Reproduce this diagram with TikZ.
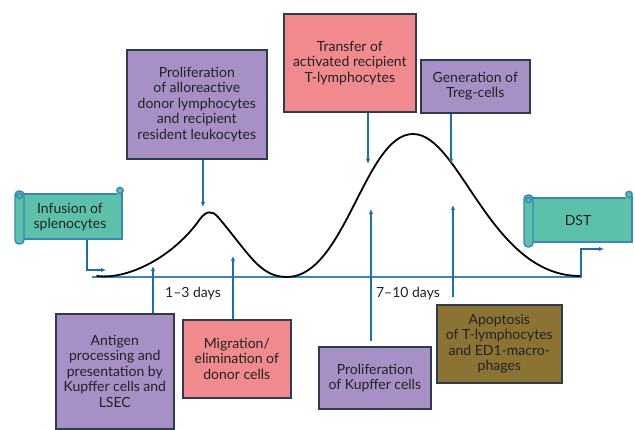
\documentclass[tikz,border=0pt]{standalone}
\usepackage{fontspec}
\setmainfont{Lato}
\usetikzlibrary{arrows.meta}
\definecolor{purp}{HTML}{A690C5}
\definecolor{pinkc}{HTML}{F08A8E}
\definecolor{olive}{HTML}{8B7334}
\definecolor{tealc}{HTML}{5CC0AA}
\definecolor{bord}{HTML}{2E3B4A}
\definecolor{arrblue}{HTML}{1F6FA0}
\definecolor{axblue}{HTML}{3A86B4}
\definecolor{txt}{HTML}{222222}
\tikzset{
  box/.style={draw=bord, line width=1.6pt, anchor=north west, inner sep=0pt, align=center,
    text=txt, font=\fontsize{14}{15.5}\selectfont},
  arr/.style={draw=arrblue, line width=1.3pt, -{Latex[length=5pt,width=4.5pt]}},
  scrollfill/.style={fill=tealc, draw=axblue, line width=1.4pt},
  lbl/.style={text=txt, font=\fontsize{14}{15.5}\selectfont, align=center}
}
\begin{document}
\begin{tikzpicture}[x=1pt,y=-1pt]
\useasboundingbox (0,0) rectangle (635,430);
\fill[white] (0,0) rectangle (635,430);

% axis and curve
\coordinate (ax0) at (92,277);
\coordinate (ax1) at (582,277);
\draw[axblue, line width=1.8pt] (ax0) -- (ax1);
\draw[black, line width=1.8pt, line cap=round]
  (97,276) .. controls (130,280) and (175,255) .. (200,219)
  .. controls (206,211) and (212,210) .. (218,217)
  .. controls (250,255) and (260,277) .. (287,277)
  .. controls (345,277) and (365,134) .. (413,134)
  .. controls (460,134) and (490,276) .. (580,276);

% scrolls
\begin{scope}
\fill[tealc] (20,194) rectangle (122,239);
\draw[axblue, line width=1.4pt] (20,194) -- (117,194) (122,192) -- (122,239) -- (20,239);
\draw[scrollfill, rounded corners=4pt] (15,191) rectangle (24,244);
\draw[scrollfill] (19.5,196) circle (2.6);
\draw[scrollfill] (120,190.5) circle (3.2);
\end{scope}
\node[lbl] (inf) at (70,217) {Infusion of\\splenocytes};

\begin{scope}
\fill[tealc] (529,198) rectangle (632,242);
\draw[axblue, line width=1.4pt] (529,198) -- (626,198) (632,196) -- (632,242) -- (529,242);
\draw[scrollfill, rounded corners=4pt] (524,195) rectangle (533,247);
\draw[scrollfill] (528.5,200) circle (2.6);
\draw[scrollfill] (629,194.5) circle (3.2);
\end{scope}
\node[lbl] (dst) at (578,220) {DST};

\coordinate (infb) at (87,240);
\coordinate (infc) at (87,270);
\coordinate (infe) at (106,270);
\draw[arr] (infb) -- (infc) -- (infe);
\coordinate (dsta) at (581,276);
\coordinate (dstc) at (581,249);
\coordinate (dste) at (604,249);
\draw[arr] (dsta) -- (dstc) -- (dste);

% top boxes
\node[box, fill=purp, minimum width=140pt, minimum height=109pt] (prolif) at (126,49)
  {Proliferation\\of alloreactive\\donor lymphocytes\\and recipient\\resident leukocytes};
\node[box, fill=pinkc, minimum width=132pt, minimum height=98pt] (transfer) at (283,13)
  {Transfer of\\activated recipient\\T-lymphocytes};
\node[box, fill=purp, minimum width=109pt, minimum height=53pt] (gen) at (420,59)
  {Generation of\\Treg-cells};

% bottom boxes
\node[box, fill=purp, minimum width=118pt, minimum height=115pt] (antigen) at (55,313)
  {Antigen\\processing and\\presentation by\\Kupffer cells and\\LSEC};
\node[box, fill=pinkc, minimum width=108pt, minimum height=78pt] (migr) at (182,319)
  {Migration/\\elimination of\\donor cells};
\node[box, fill=purp, minimum width=112pt, minimum height=62pt] (kupf) at (318,346)
  {Proliferation\\of Kupffer cells};
\node[box, fill=olive, minimum width=125pt, minimum height=78pt] (apop) at (436,304)
  {Apoptosis\\of T-lymphocytes\\and ED1-macro-\\phages};

% day labels
\node[lbl] (d1) at (193,294) {1–3 days};
\node[lbl] (d2) at (408,294) {7–10 days};

% down arrows
\coordinate (p1) at (203,207);
\coordinate (p2) at (368,164);
\coordinate (p3) at (451,164);
\draw[arr] (prolif.south -| p1) -- (p1);
\draw[arr] (transfer.south -| p2) -- (p2);
\draw[arr] (gen.south -| p3) -- (p3);

% up arrows
\coordinate (u1) at (153,266);
\coordinate (u2) at (233,256);
\coordinate (u3) at (371,209);
\coordinate (u4) at (453,205);
\draw[arr] (antigen.north -| u1) -- (u1);
\draw[arr] (migr.north -| u2) -- (u2);
\draw[arr] ([yshift=5pt]kupf.north -| u3) -- (u3);
\draw[arr] ([yshift=7pt]apop.north -| u4) -- (u4);
\end{tikzpicture}
\end{document}
